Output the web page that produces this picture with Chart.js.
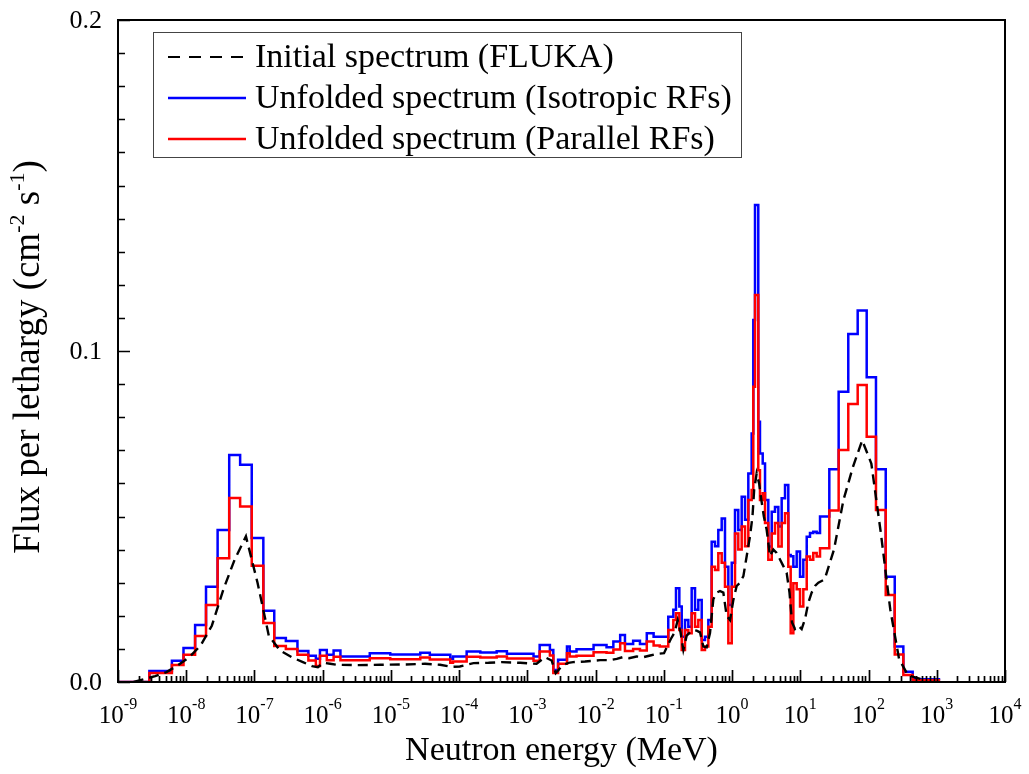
<!DOCTYPE html>
<html><head><meta charset="utf-8">
<script src="https://cdn.jsdelivr.net/npm/chart.js@4.4.0/dist/chart.umd.min.js"></script>
<style>html,body{margin:0;padding:0;background:#fff;}canvas{display:block;}</style>
</head><body>
<canvas id="c" width="1029" height="774"></canvas>
<script>
// Bin edges, log10(E / MeV)
const logEdges = [
 -9.0, -8.54, -8.37, -8.21, -8.04, -7.87, -7.71, -7.54, -7.37, -7.21, -7.04, -6.87, -6.71, -6.54, -6.37, -6.21, -6.10,
 -6.04, -5.94, -5.84, -5.74, -5.31, -5.01, -4.57, -4.43, -4.13, -4.09, -3.89, -3.69, -3.45, -3.30, -2.91, -2.82, -2.67, -2.62, -2.55, -2.42, -2.38, -2.28, -2.03, -1.84, -1.74, -1.64, -1.57, -1.45, -1.35, -1.25, -1.15,
 -1.06, -0.935, -0.861, -0.822, -0.773, -0.738, -0.690, -0.641, -0.592, -0.543, -0.495, -0.445, -0.397, -0.348, -0.299, -0.250, -0.202, -0.152, -0.104, -0.055, -0.005, 0.043, 0.091, 0.141, 0.190, 0.238, 0.287, 0.311, 0.336, 0.384,
 0.409, 0.449, 0.483, 0.531, 0.581, 0.629, 0.678, 0.727, 0.776, 0.824, 0.859, 0.898, 0.947, 0.996, 1.044, 1.094, 1.142, 1.190, 1.240,
 1.289, 1.425, 1.562, 1.703, 1.841, 1.973, 2.109, 2.252, 2.384, 2.510, 2.647, 3.05
];

// Unfolded spectrum (Isotropic RFs)
const isotropicRF = [
 0, 0.0033, 0.0033, 0.0064, 0.0103, 0.0172, 0.0288, 0.0459, 0.0686, 0.0656, 0.0435, 0.0215, 0.0133, 0.0124, 0.0094, 0.0079, 0.0070,
 0.0097, 0.0082, 0.0095, 0.0077, 0.0087, 0.0083, 0.0088, 0.0082, 0.0070, 0.0077, 0.0092, 0.0089, 0.0093, 0.0085, 0.0077, 0.0112, 0.0097, 0.0036, 0.0067, 0.0107, 0.0092, 0.0099, 0.0112, 0.0105, 0.0122, 0.0142, 0.0115, 0.0125, 0.0115, 0.0147, 0.0137,
 0.0137, 0.0197, 0.0218, 0.0283, 0.0228, 0.0137, 0.0187, 0.0167, 0.0283, 0.0218, 0.0248, 0.0127, 0.0137, 0.0187, 0.0424, 0.0410, 0.0459, 0.0494, 0.0348, 0.0233, 0.0360, 0.0520, 0.0459, 0.0560, 0.0490, 0.0630, 0.0751, 0.1094, 0.1441, 0.0786,
 0.0690, 0.0660, 0.0550, 0.0409, 0.0514, 0.0529, 0.0470, 0.0555, 0.0595, 0.0384, 0.0380, 0.0348, 0.0394, 0.0318, 0.0369, 0.0439, 0.0450, 0.0454, 0.0450,
 0.0500, 0.0643, 0.0877, 0.1051, 0.1122, 0.0921, 0.0643, 0.0318, 0.0107, 0.0031, 0.0008
];

// Unfolded spectrum (Parallel RFs)
const parallelRF = [
 0, 0.0027, 0.0027, 0.0051, 0.0082, 0.0139, 0.0233, 0.0374, 0.0556, 0.0530, 0.0351, 0.0178, 0.0109, 0.0100, 0.0082, 0.0065, 0.0048,
 0.0079, 0.0066, 0.0076, 0.0066, 0.0072, 0.0069, 0.0074, 0.0068, 0.0058, 0.0062, 0.0076, 0.0074, 0.0077, 0.0071, 0.0064, 0.0092, 0.0080, 0.0027, 0.0055, 0.0087, 0.0077, 0.0079, 0.0090, 0.0088, 0.0098, 0.0117, 0.0094, 0.0100, 0.0095, 0.0122, 0.0110,
 0.0107, 0.0157, 0.0187, 0.0208, 0.0157, 0.0097, 0.0157, 0.0147, 0.0208, 0.0167, 0.0187, 0.0097, 0.0107, 0.0167, 0.0348, 0.0338, 0.0389, 0.0360, 0.0288, 0.0117, 0.0288, 0.0449, 0.0400, 0.0470, 0.0410, 0.0550, 0.0580, 0.0892, 0.1169, 0.0640,
 0.0550, 0.0570, 0.0480, 0.0369, 0.0449, 0.0480, 0.0409, 0.0480, 0.0510, 0.0348, 0.0147, 0.0298, 0.0280, 0.0228, 0.0280, 0.0379, 0.0369, 0.0390, 0.0379,
 0.0404, 0.0518, 0.0701, 0.0840, 0.0897, 0.0741, 0.0520, 0.0263, 0.0083, 0.0021, 0.0005
];

// Initial spectrum (FLUKA), value per bin (drawn through bin centres)
const flukaInitial = [
 0, 0.0018, 0.0030, 0.0050, 0.0075, 0.0110, 0.0170, 0.0280, 0.0370, 0.0440, 0.0300, 0.0140, 0.0095, 0.0075, 0.0060, 0.0048, 0.0045,
 0.0058, 0.0055, 0.0052, 0.0051, 0.0052, 0.0053, 0.0055, 0.0052, 0.0046, 0.0047, 0.0057, 0.0058, 0.0060, 0.0058, 0.0055, 0.0075, 0.0065, 0.0027, 0.0050, 0.0058, 0.0060, 0.0062, 0.0066, 0.0066, 0.0070, 0.0075, 0.0072, 0.0077, 0.0075, 0.0080, 0.0085,
 0.0087, 0.0130, 0.0150, 0.0187, 0.0150, 0.0097, 0.0140, 0.0150, 0.0157, 0.0155, 0.0150, 0.0107, 0.0105, 0.0148, 0.0250, 0.0270, 0.0275, 0.0270, 0.0200, 0.0187, 0.0248, 0.0290, 0.0300, 0.0320, 0.0380, 0.0440, 0.0500, 0.0580, 0.0630, 0.0600,
 0.0550, 0.0500, 0.0460, 0.0380, 0.0400, 0.0390, 0.0370, 0.0350, 0.0330, 0.0270, 0.0180, 0.0160, 0.0170, 0.0160, 0.0190, 0.0240, 0.0270, 0.0290, 0.0300,
 0.0310, 0.0400, 0.0550, 0.0650, 0.0730, 0.0660, 0.0450, 0.0220, 0.0070, 0.0020, 0.0004
];

const xTickExponents = [-9, -8, -7, -6, -5, -4, -3, -2, -1, 0, 1, 2, 3, 4];
const yTickValues = [0, 0.1, 0.2];
const yTickLabels = ['0.0', '0.1', '0.2'];
const seriesNames = ['Initial spectrum (FLUKA)', 'Unfolded spectrum (Isotropic RFs)', 'Unfolded spectrum (Parallel RFs)'];

const FONT = '"Liberation Serif", "Times New Roman", serif';

function stepPoints(vals) {
  const pts = vals.map((v, i) => ({ x: Math.pow(10, logEdges[i]), y: v }));
  pts.push({ x: Math.pow(10, logEdges[vals.length]), y: vals[vals.length - 1] });
  return pts;
}
function centrePoints(vals) {
  return vals.map((v, i) => ({ x: Math.pow(10, (logEdges[i] + logEdges[i + 1]) / 2), y: v }));
}

const decor = {
  id: 'decor',
  beforeDraw(chart) {
    const c = chart.ctx;
    c.save(); c.fillStyle = '#fff'; c.fillRect(0, 0, chart.width, chart.height); c.restore();
  },
  afterDraw(chart) {
    const c = chart.ctx, a = chart.chartArea, xs = chart.scales.x, ys = chart.scales.y;
    c.save();
    c.strokeStyle = '#000'; c.fillStyle = '#000';
    c.lineWidth = 2;
    c.strokeRect(a.left, a.top, a.right - a.left, a.bottom - a.top);
    // x ticks (inward)
    c.lineWidth = 1.7;
    c.beginPath();
    xTickExponents.forEach((e, idx) => {
      const px = Math.round(xs.getPixelForValue(Math.pow(10, e))) + 0.5;
      c.moveTo(px, a.bottom); c.lineTo(px, a.bottom - 12);
      if (idx < xTickExponents.length - 1) {
        for (let k = 2; k <= 9; k++) {
          const p = Math.round(xs.getPixelForValue(k * Math.pow(10, e))) + 0.5;
          c.moveTo(p, a.bottom); c.lineTo(p, a.bottom - 6);
        }
      }
    });
    // y ticks (inward)
    for (let i = 0; i <= 20; i++) {
      const py = Math.round(ys.getPixelForValue(i / 100)) + 0.5;
      const len = (i % 10 === 0) ? 12 : 7;
      c.moveTo(a.left, py); c.lineTo(a.left + len, py);
    }
    c.stroke();
    // x tick labels 10^n
    xTickExponents.forEach(e => {
      const px = xs.getPixelForValue(Math.pow(10, e));
      c.font = '25px ' + FONT;
      const w1 = c.measureText('10').width;
      c.font = '16px ' + FONT;
      const es = String(e);
      const w2 = c.measureText(es).width;
      const x0 = px - (w1 + w2) / 2;
      c.textBaseline = 'alphabetic'; c.textAlign = 'left';
      c.font = '25px ' + FONT; c.fillText('10', x0, 723);
      c.font = '16px ' + FONT; c.fillText(es, x0 + w1, 709);
    });
    // y tick labels
    c.font = '26px ' + FONT; c.textAlign = 'right'; c.textBaseline = 'middle';
    yTickValues.forEach((v, i) => {
      c.fillText(yTickLabels[i], 102, ys.getPixelForValue(v) + 1);
    });
    // x title
    c.font = '34px ' + FONT; c.textAlign = 'center'; c.textBaseline = 'alphabetic';
    c.fillText('Neutron energy (MeV)', (a.left + a.right) / 2, 760);
    // y title with superscripts
    const parts = [['Flux per lethargy (cm', 0], ['-2', 1], [' s', 0], ['-1', 1], [')', 0]];
    const big = '37px ', small = '22px ';
    let total = 0;
    parts.forEach(p => { c.font = (p[1] ? small : big) + FONT; total += c.measureText(p[0]).width; });
    c.save();
    c.translate(39, 357); c.rotate(-Math.PI / 2);
    c.textAlign = 'left'; c.textBaseline = 'alphabetic';
    let cx = -total / 2;
    parts.forEach(p => {
      c.font = (p[1] ? small : big) + FONT;
      c.fillText(p[0], cx, p[1] ? -15 : 0);
      cx += c.measureText(p[0]).width;
    });
    c.restore();
    // legend
    c.lineWidth = 1; c.strokeStyle = '#444';
    c.strokeRect(153.5, 32.5, 588, 125);
    const rows = [57, 98, 139];
    const styles = [{ col: '#000', dash: [12, 9], w: 2.2 }, { col: '#0000ff', dash: [], w: 2.4 }, { col: '#ff0000', dash: [], w: 2.4 }];
    rows.forEach((ry, i) => {
      c.beginPath(); c.setLineDash(styles[i].dash); c.strokeStyle = styles[i].col; c.lineWidth = styles[i].w;
      c.moveTo(168, ry); c.lineTo(246, ry); c.stroke();
      c.setLineDash([]);
      c.fillStyle = '#000'; c.font = '34px ' + FONT; c.textAlign = 'left'; c.textBaseline = 'middle';
      c.fillText(seriesNames[i], 255, ry + 1);
    });
    c.restore();
  }
};

new Chart(document.getElementById('c'), {
  type: 'line',
  data: {
    datasets: [
      { label: seriesNames[0], data: centrePoints(flukaInitial), borderColor: '#000', borderWidth: 2.4, borderDash: [10, 6], pointRadius: 0, tension: 0, fill: false, order: 0 },
      { label: seriesNames[2], data: stepPoints(parallelRF), borderColor: '#ff0000', borderWidth: 2.5, stepped: 'before', pointRadius: 0, fill: false, order: 1 },
      { label: seriesNames[1], data: stepPoints(isotropicRF), borderColor: '#0000ff', borderWidth: 2.5, stepped: 'before', pointRadius: 0, fill: false, order: 2 }
    ]
  },
  options: {
    responsive: false, animation: false, devicePixelRatio: 1,
    layout: { padding: { left: 118, right: 24, top: 20, bottom: 92 } },
    plugins: { legend: { display: false }, tooltip: { enabled: false } },
    scales: {
      x: { type: 'logarithmic', min: 1e-9, max: 1e4, display: false },
      y: { type: 'linear', min: 0, max: 0.2, display: false }
    }
  },
  plugins: [decor]
});
</script>
</body></html>
